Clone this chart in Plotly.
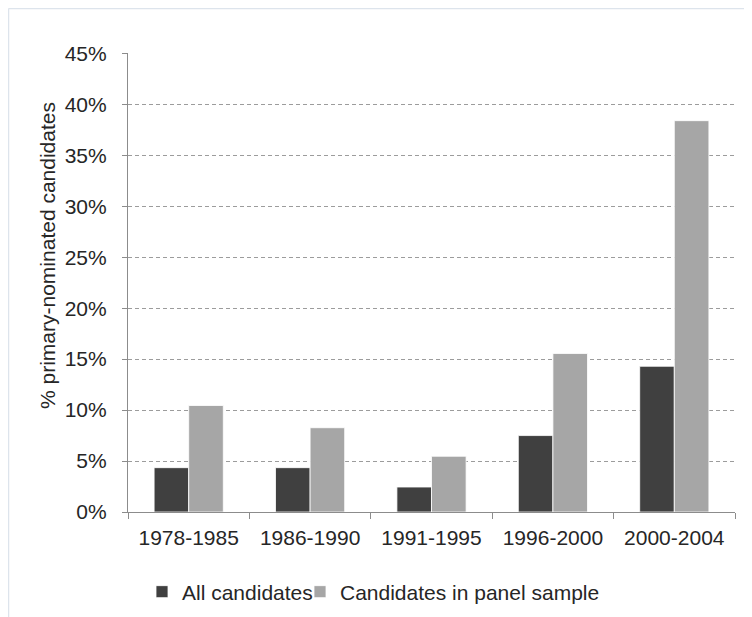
import plotly.graph_objects as go

categories = ["1978-1985", "1986-1990", "1991-1995", "1996-2000", "2000-2004"]
all_candidates = [4.35, 4.35, 2.45, 7.5, 14.3]
panel_sample = [10.45, 8.27, 5.47, 15.55, 38.4]
series_names = ["All candidates", "Candidates in panel sample"]
y_ticks = [0, 5, 10, 15, 20, 25, 30, 35, 40, 45]
y_tick_labels = [f"{v}%" for v in y_ticks]
y_title = "% primary-nominated candidates"

# page has an 8px body margin, so the figure is sized to fill the rest of the window
W, H = 744, 609
ml, mr, mt, mb = 120, 17, 45, 105
pw = W - ml - mr
ph = H - mt - mb

def px_x(fx):  # figure px -> paper fraction
    return (fx - ml) / pw

def px_y(fy):
    return 1 - (fy - mt) / ph

fig = go.Figure()
fig.add_trace(go.Bar(x=categories, y=all_candidates, name=series_names[0], legend="legend",
                     marker=dict(color="#404040", line=dict(color="#ffffff", width=0.8))))
fig.add_trace(go.Bar(x=categories, y=panel_sample, name=series_names[1], legend="legend2",
                     marker=dict(color="#A6A6A6", line=dict(color="#ffffff", width=0.8))))

font = "Liberation Sans, Arial, sans-serif"
txt = "#262626"
fs = 21
leg_common = dict(orientation="h", yanchor="middle", xanchor="left",
                  font=dict(size=fs, color=txt), itemwidth=30, bgcolor="rgba(0,0,0,0)")
fig.update_layout(
    width=W, height=H,
    margin=dict(l=ml, r=mr, t=mt, b=mb, autoexpand=False),
    paper_bgcolor="white", plot_bgcolor="white",
    barmode="group", bargap=0.43, bargroupgap=0,
    font=dict(family=font, size=fs, color=txt),
    showlegend=True,
    legend=dict(x=px_x(134), y=px_y(584), **leg_common),
    legend2=dict(x=px_x(292), y=px_y(584), **leg_common),
    xaxis=dict(showline=True, linecolor="#8C8C8C", linewidth=1.2,
               ticks="outside", ticklen=6, tickcolor="#8C8C8C",
               tickson="boundaries", showgrid=False, automargin=False,
               ticklabelstandoff=7,
               tickfont=dict(size=fs, color=txt)),
    yaxis=dict(range=[0, 45.04], tickvals=y_ticks, ticktext=y_tick_labels,
               showline=True, linecolor="#8C8C8C", linewidth=1.2,
               ticks="outside", ticklen=5, tickcolor="#8C8C8C",
               showgrid=True, gridcolor="#9C9C9C", griddash="4px,3px", gridwidth=1,
               zeroline=False, automargin=False,
               ticklabelstandoff=11,
               tickfont=dict(size=fs, color=txt)),
    annotations=[dict(text=y_title, xref="paper", yref="paper",
                      x=px_x(39), y=px_y(248), textangle=-90,
                      xanchor="center", yanchor="middle", showarrow=False,
                      font=dict(size=fs, color=txt, family=font))],
)

# faint outer frame (left and top edges)
fig.add_shape(type="line", xref="paper", yref="paper", x0=px_x(0.5), x1=px_x(0.5),
              y0=px_y(H), y1=px_y(0.5), line=dict(color="#DDE4EC", width=1.5))
fig.add_shape(type="line", xref="paper", yref="paper", x0=px_x(0.5), x1=px_x(W),
              y0=px_y(0.5), y1=px_y(0.5), line=dict(color="#DDE4EC", width=1.5))

fig.write_html("out.html")
